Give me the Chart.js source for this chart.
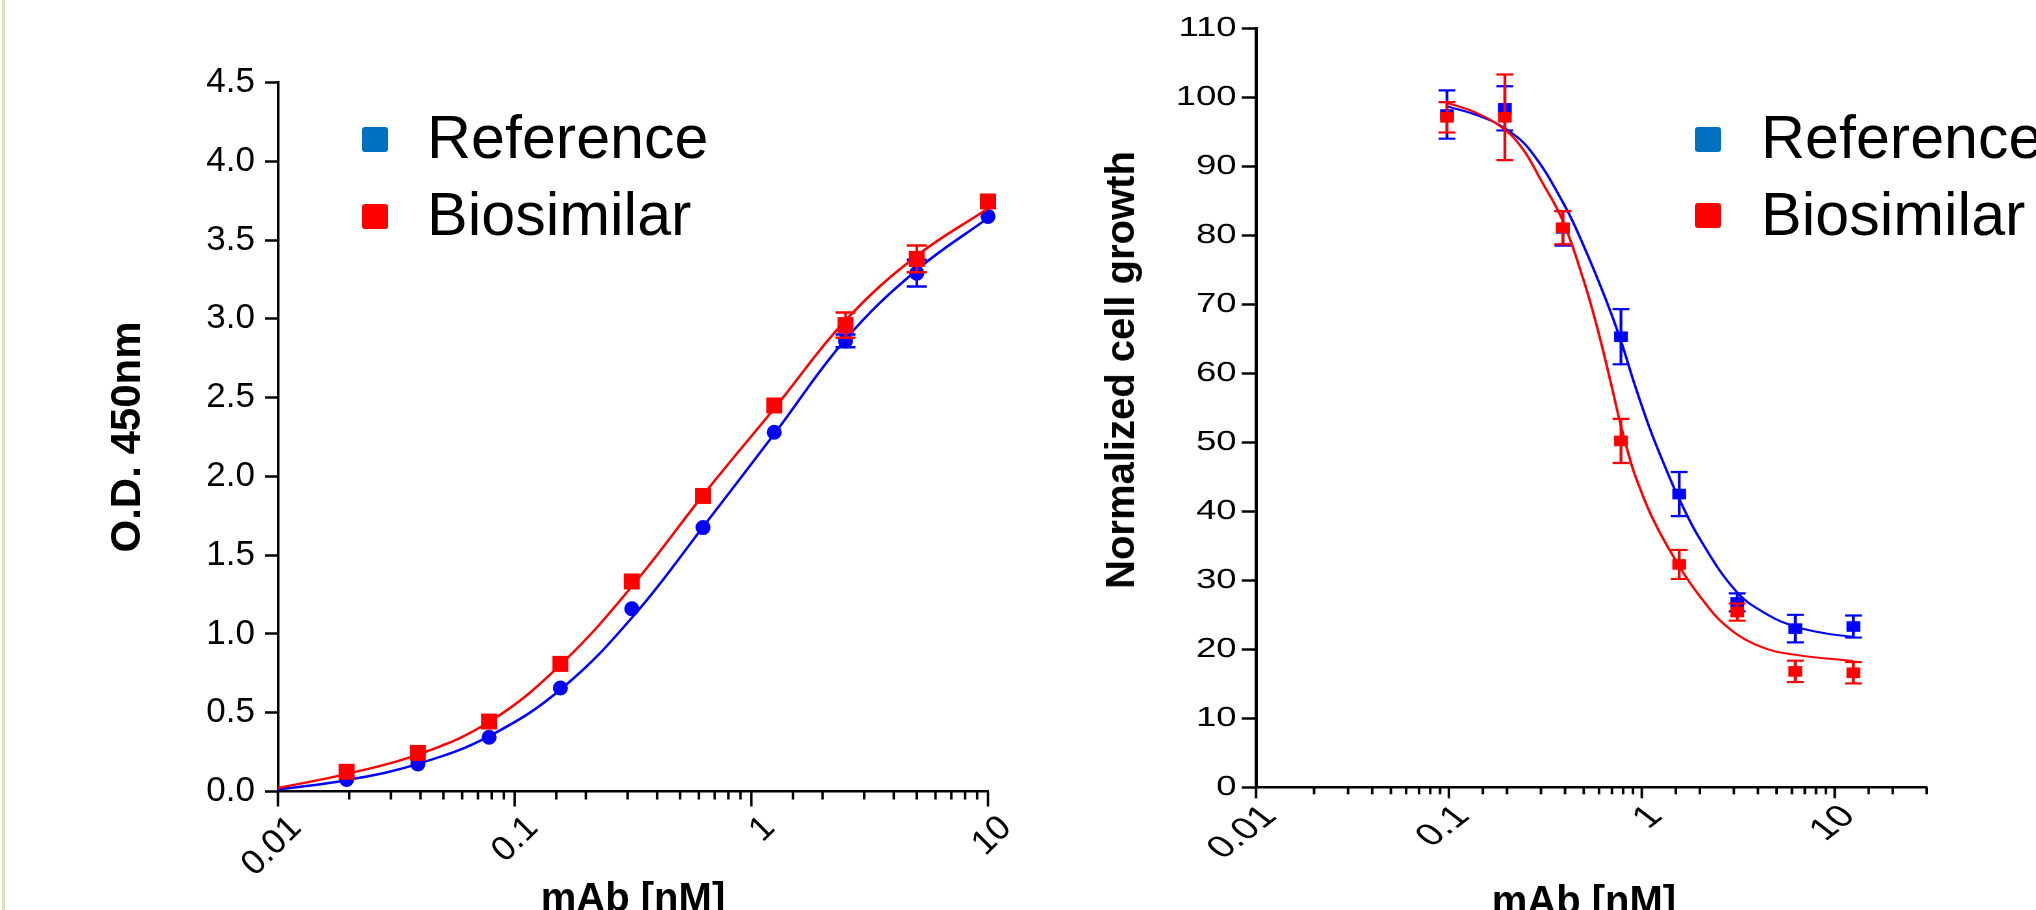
<!DOCTYPE html>
<html>
<head>
<meta charset="utf-8">
<script src="https://cdn.jsdelivr.net/npm/chart.js@4.4.1/dist/chart.umd.min.js"></script>
<style>
  html, body { margin: 0; padding: 0; }
  body { width: 2036px; height: 910px; overflow: hidden; background: #fff; position: relative;
         font-family: 'Liberation Sans', Arial, sans-serif; }
  #edge { position: absolute; left: 2px; top: 0; width: 3px; height: 910px; background: #d7e4bd; }
  .wrap { position: absolute; top: 0; }
  #leftWrap { left: 0; width: 1018px; height: 950px; }
  #rightWrap { left: 1018px; width: 795px; height: 950px; transform: scaleX(1.3); transform-origin: 0 0; }
  .key { position: absolute; width: 26px; height: 25px; border-radius: 3px; }
  .keyText { position: absolute; font-size: 61px; line-height: 61px; white-space: nowrap; color: #000; }
  .axTitle { position: absolute; font-weight: bold; font-size: 40px; line-height: 48px; white-space: nowrap; color: #000; }
</style>
</head>
<body>
<div id="edge"></div>
<div class="wrap" id="leftWrap"><canvas id="elisa" width="1018" height="950"></canvas></div>
<div class="wrap" id="rightWrap"><canvas id="growth" width="795" height="950"></canvas></div>

<div class="key" style="left:362px;top:127px;background:#0070c0"></div>
<div class="keyText" style="left:427px;top:106.7px">Reference</div>
<div class="key" style="left:362px;top:204px;background:#ff0000"></div>
<div class="keyText" style="left:427px;top:184.1px">Biosimilar</div>

<div class="key" style="left:1695px;top:127px;background:#0070c0"></div>
<div class="keyText" style="left:1761px;top:106.7px">Reference</div>
<div class="key" style="left:1695px;top:203px;background:#ff0000"></div>
<div class="keyText" style="left:1761px;top:184.1px">Biosimilar</div>

<div class="axTitle" style="left:1120px;top:370px;transform:translate(-50%,-50%) rotate(-90deg)">Normalized cell growth</div>
<div class="axTitle" style="left:1584px;top:876px;transform:translateX(-50%)">mAb [nM]</div>

<script>
    // ELISA binding, left panel
    var elisaConc = [0.0195, 0.039, 0.078, 0.156, 0.3125, 0.625, 1.25, 2.5, 5, 10];
    var elisaRef = [0.076, 0.175, 0.344, 0.657, 1.16, 1.675, 2.28, 2.86, 3.29, 3.65];
    var elisaBio = [0.125, 0.245, 0.444, 0.81, 1.333, 1.876, 2.45, 2.96, 3.38, 3.745];
    var elisaRefSd = [0, 0, 0, 0, 0, 0, 0, 0.04, 0.085, 0];
    var elisaBioSd = [0, 0, 0, 0, 0, 0, 0, 0.08, 0.085, 0];
    // fitted curves
    var elisaFitConc = [0.01, 0.02, 0.04, 0.08, 0.16, 0.32, 0.64, 1.28, 2.5, 5, 10];
    var elisaRefFit = [0.012, 0.075, 0.18, 0.36, 0.66, 1.12, 1.70, 2.29, 2.87, 3.31, 3.64];
    var elisaBioFit = [0.022, 0.115, 0.24, 0.452, 0.82, 1.32, 1.90, 2.45, 2.99, 3.40, 3.70];
    var elisaYTicks = [0, 0.5, 1, 1.5, 2, 2.5, 3, 3.5, 4, 4.5];

    // cell growth, right panel
    var growthConc = [0.0977, 0.195, 0.39, 0.78, 1.5625, 3.125, 6.25, 12.5];
    var growthRef = [97.5, 98.4, 81.0, 65.3, 42.5, 26.8, 23.0, 23.3];
    var growthRefSd = [3.5, 3.2, 2.5, 4.0, 3.2, 1.3, 2.0, 1.6];
    var growthBio = [97.1, 97.1, 81.1, 50.2, 32.3, 25.4, 16.8, 16.6];
    var growthBioSd = [2.2, 6.2, 2.4, 3.2, 2.1, 1.25, 1.55, 1.55];
    var growthRefFitConc = [0.0977, 0.14, 0.195, 0.264, 0.393, 0.499, 0.649, 0.773, 0.92, 1.1, 1.296, 1.55, 2.0, 3.11, 4.5, 6.25, 9, 12.5];
    var growthRefFit = [98.7, 97.4, 95.5, 92.3, 84.6, 78.5, 70.8, 65.0, 58.3, 52.0, 47.0, 42.0, 36.0, 28.3, 25.0, 23.3, 22.3, 21.8];
    var growthBioFitConc = [0.0977, 0.14, 0.195, 0.243, 0.3, 0.388, 0.499, 0.585, 0.686, 0.773, 0.871, 0.943, 1.15, 1.55, 2.01, 2.76, 4.11, 6.25, 12.5];
    var growthBioFit = [99.2, 97.7, 95.3, 92.4, 88.0, 82.2, 73.5, 66.8, 59.0, 52.8, 47.4, 44.5, 38.7, 32.2, 27.6, 23.3, 20.4, 19.2, 18.3];
    var growthYTicks = [0, 10, 20, 30, 40, 50, 60, 70, 80, 90, 100, 110];

    var xLabels = ['0.01', '0.1', '1', '10'];

    Chart.defaults.font.family = "'Liberation Sans', Arial, sans-serif";
    Chart.defaults.color = '#000';

    function pts(xs, ys){
        var out = [];
        for(var i = 0; i < xs.length; i++){
            out.push({x : xs[i], y : ys[i]});
        }
        return out;
    }

    function isDecade(v){
        var l = Math.log10(v);
        return Math.abs(l - Math.round(l)) < 1e-6;
    }

    function xLabel(v){
        for(var i = 0; i < xLabels.length; i++){
            if(Math.abs(v - parseFloat(xLabels[i])) < v * 1e-6) return xLabels[i];
        }
        return '';
    }

    // mean +/- sd bars, drawn right after each dataset
    var errorBars = {
        id: 'errorBars',
        afterDatasetDraw: function(chart, args, opts){
            var ds = chart.data.datasets[args.index];
            if(!ds.sd) return;
            var ctx = chart.ctx;
            var xs = chart.scales.x, ys = chart.scales.y;
            ctx.save();
            ctx.strokeStyle = ds.borderColor;
            ctx.lineWidth = opts.width;
            for(var i = 0; i < ds.data.length; i++){
                var sd = ds.sd[i];
                if(!sd) continue;
                var px = xs.getPixelForValue(ds.data[i].x);
                var top = ys.getPixelForValue(ds.data[i].y + sd);
                var bot = ys.getPixelForValue(ds.data[i].y - sd);
                ctx.beginPath();
                ctx.moveTo(px, top); ctx.lineTo(px, bot);
                ctx.moveTo(px - opts.cap, top); ctx.lineTo(px + opts.cap, top);
                ctx.moveTo(px - opts.cap, bot); ctx.lineTo(px + opts.cap, bot);
                ctx.stroke();
            }
            ctx.restore();
        }
    };

    // long ticks on decades, short ones in between
    var logTicks = {
        id: 'logTicks',
        afterDraw: function(chart, args, opts){
            var sc = chart.scales.x;
            var ctx = chart.ctx;
            ctx.save();
            ctx.strokeStyle = '#000';
            ctx.lineWidth = opts.width;
            sc.ticks.forEach(function(t){
                var px = sc.getPixelForValue(t.value);
                var len = isDecade(t.value) ? opts.major : opts.minor;
                ctx.beginPath();
                ctx.moveTo(px, sc.top);
                ctx.lineTo(px, sc.top + len);
                ctx.stroke();
            });
            ctx.restore();
        }
    };

    // Left: O.D. 450nm

    var elisaChart = new Chart("elisa", {
        type: 'scatter',
        data: {
            datasets: [
                {label: 'Biosimilar', data: pts(elisaConc, elisaBio), sd: elisaBioSd, order: 1, clip: false,
                 backgroundColor: '#ff0000', borderColor: '#ff0000', pointStyle: 'rect', pointRadius: 11.3, pointBorderWidth: 0},
                {label: 'Biosimilar fit', data: pts(elisaFitConc, elisaBioFit), order: 2, showLine: true,
                 borderColor: '#ff0000', borderWidth: 2.5, pointRadius: 0, tension: 0.4},
                {label: 'Reference', data: pts(elisaConc, elisaRef), sd: elisaRefSd, order: 3, clip: false,
                 backgroundColor: '#0000ff', borderColor: '#0000ff', pointStyle: 'circle', pointRadius: 7.5, pointBorderWidth: 0},
                {label: 'Reference fit', data: pts(elisaFitConc, elisaRefFit), order: 4, showLine: true,
                 borderColor: '#0000ff', borderWidth: 2.5, pointRadius: 0, tension: 0.4}
            ]
        },
        options: {
            responsive: false,
            animation: false,
            events: [],
            layout: {padding: {left: 0, top: 82.5, right: 30, bottom: 0}},
            scales: {
                x: {
                    type: 'logarithmic', min: 0.01, max: 10,
                    afterFit: function(s){ s.height = 158.5; s.paddingRight = 0; s.paddingLeft = 0; },
                    grid: {drawOnChartArea: false, tickLength: 15, tickColor: 'rgba(0,0,0,0)'},
                    border: {display: true, color: '#000', width: 2.5},
                    ticks: {autoSkip: false, minRotation: 45, maxRotation: 45, padding: 1, labelOffset: 18,
                            font: {size: 35}, callback: function(v){ return xLabel(v); }},
                    title: {display: true, text: 'mAb [nM]', font: {size: 40, weight: 'bold'}, padding: {top: 0, bottom: 26}}
                },
                y: {
                    type: 'linear', min: 0, max: 4.5,
                    afterFit: function(s){ s.width = 278; },
                    afterBuildTicks: function(s){ s.ticks = elisaYTicks.map(function(v){ return {value: v}; }); },
                    grid: {drawOnChartArea: false, tickLength: 13, tickColor: '#000', tickWidth: 2.5},
                    border: {display: true, color: '#000', width: 2.5},
                    ticks: {padding: 10, font: {size: 35}, callback: function(v){ return v.toFixed(1); }},
                    title: {display: true, text: 'O.D. 450nm', font: {size: 42, weight: 'bold'}, padding: {top: 103, bottom: 0}}
                }
            },
            plugins: {
                legend: {display: false},
                tooltip: {enabled: false},
                errorBars: {cap: 10, width: 2.5},
                logTicks: {major: 15, minor: 8, width: 2.5}
            }
        },
        plugins: [errorBars, logTicks]
    });

    // Right: normalized cell growth (canvas is stretched 1.3x sideways by css)

    var growthChart = new Chart("growth", {
        type: 'scatter',
        data: {
            datasets: [
                {label: 'Biosimilar', data: pts(growthConc, growthBio), sd: growthBioSd, order: 1, clip: false,
                 backgroundColor: '#ff0000', borderColor: '#ff0000', pointStyle: 'rect', pointRadius: 7.5, pointBorderWidth: 0},
                {label: 'Biosimilar fit', data: pts(growthBioFitConc, growthBioFit), order: 2, showLine: true,
                 borderColor: '#ff0000', borderWidth: 2, pointRadius: 0, tension: 0.4},
                {label: 'Reference', data: pts(growthConc, growthRef), sd: growthRefSd, order: 3, clip: false,
                 backgroundColor: '#0000ff', borderColor: '#0000ff', pointStyle: 'rect', pointRadius: 7.5, pointBorderWidth: 0},
                {label: 'Reference fit', data: pts(growthRefFitConc, growthRefFit), order: 4, showLine: true,
                 borderColor: '#0000ff', borderWidth: 2, pointRadius: 0, tension: 0.4}
            ]
        },
        options: {
            responsive: false,
            animation: false,
            events: [],
            devicePixelRatio: 2,
            layout: {padding: {left: 0, top: 28.3, right: 96, bottom: 0}},
            scales: {
                x: {
                    type: 'logarithmic', min: 0.01, max: 30,
                    afterFit: function(s){ s.height = 162.7; s.paddingRight = 0; s.paddingLeft = 0; },
                    grid: {drawOnChartArea: false, tickLength: 11, tickColor: 'rgba(0,0,0,0)'},
                    border: {display: true, color: '#000', width: 2.5},
                    ticks: {autoSkip: false, minRotation: 45, maxRotation: 45, padding: 0, labelOffset: 11,
                            font: {size: 31}, callback: function(v){ return xLabel(v); }}
                },
                y: {
                    type: 'linear', min: 0, max: 110,
                    afterFit: function(s){ s.width = 183.1; },
                    afterBuildTicks: function(s){ s.ticks = growthYTicks.map(function(v){ return {value: v}; }); },
                    grid: {drawOnChartArea: false, tickLength: 11, tickColor: '#000', tickWidth: 2.5},
                    border: {display: true, color: '#000', width: 2.5},
                    ticks: {padding: 4, font: {size: 28}, callback: function(v){ return String(v); }}
                }
            },
            plugins: {
                legend: {display: false},
                tooltip: {enabled: false},
                errorBars: {cap: 6.5, width: 2.2},
                logTicks: {major: 11, minor: 7, width: 2}
            }
        },
        plugins: [errorBars, logTicks]
    });
</script>
</body>
</html>
